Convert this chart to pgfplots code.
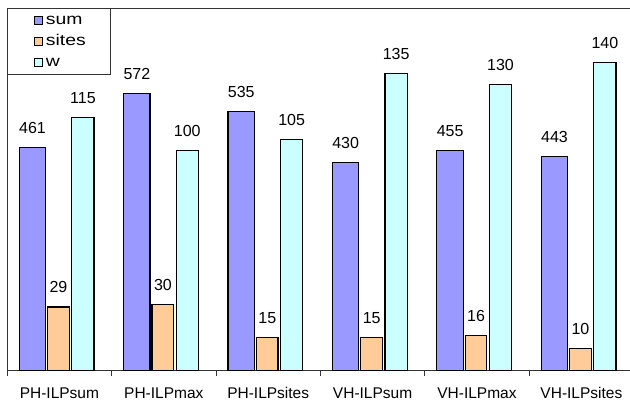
\documentclass[border=0pt]{standalone}
\usepackage{pgfplots}
\pgfplotsset{compat=1.18}
\usepackage{fontspec}
\setmainfont{Liberation Sans}
\newfontfamily\legfont[FakeStretch=1.25]{Liberation Sans}
\definecolor{sumc}{HTML}{9999FF}
\definecolor{sitec}{HTML}{FFCC99}
\definecolor{wc}{HTML}{CCFFFF}
\begin{document}
\begin{tikzpicture}
\pgfplotsset{common/.style={
  at={(0,0)}, anchor=south west, scale only axis,
  width=626.4pt, height=362.7pt,
  xmin=-0.5, xmax=5.5, ymin=0, ybar,
  /pgf/number format/assume math mode=true,
  every node near coord/.append style={font=\fontsize{16}{16}\selectfont, yshift=10pt, black},
}}
\begin{axis}[common, ymax=749,
  axis line style={line width=0.8pt, black!80},
  xtick={0,...,5},
  xticklabels={PH-ILPsum,PH-ILPmax,PH-ILPsites,VH-ILPsum,VH-ILPmax,VH-ILPsites},
  minor xtick={-0.5,0.5,...,5.5},
  ytick=\empty, xtick pos=bottom, tick align=outside,
  major tick length=0pt, minor tick length=5pt,
  minor tick style={line width=0.8pt, black!80},
  xticklabel style={font=\fontsize{15.5}{15.5}\selectfont, text height=11pt, inner sep=0pt, anchor=north, yshift=-17pt},
]
\addplot[fill=sumc, draw=black, line width=1.2pt, bar width=26.4pt, bar shift=-26.9pt, nodes near coords]
  coordinates {(0,461) (1,572) (2,535) (3,430) (4,455) (5,443)};
\end{axis}
\begin{axis}[common, ymax=164.9, hide axis,
  legend image code/.code={\path[draw=none, fill=none] (0pt,0pt) -- (32pt,0pt); \draw[#1, draw=black, line width=0.8pt] (24pt,-4pt) rectangle (32pt,4pt);},
  legend cell align=left,
  legend style={at={(0,1)}, anchor=north west, draw=black!80, line width=0.8pt, fill=white,
    font=\legfont\fontsize{15.5}{15.5}\selectfont, row sep=1pt,
    nodes={inner xsep=3pt, inner ysep=2pt, text height=12pt, text depth=4pt},
    /tikz/every even column/.append style={column sep=9pt},
    /tikz/column 2/.style={nodes={text width=58pt}}},
]
\addlegendimage{fill=sumc}
\addlegendentry{sum}
\addplot[fill=sitec, draw=black, line width=1.2pt, bar width=21.6pt, bar shift=-0.9pt, nodes near coords]
  coordinates {(0,29) (1,30) (2,15) (3,15) (4,16) (5,10)};
\addlegendentry{sites}
\addplot[fill=wc, draw=black, line width=1.2pt, bar width=22.3pt, bar shift=23.5pt, nodes near coords]
  coordinates {(0,115) (1,100) (2,105) (3,135) (4,130) (5,140)};
\addlegendentry{w}
\end{axis}
\pgfresetboundingbox
\path[use as bounding box] (-7.2pt,-33.3pt) rectangle (622.8pt,370.7pt);
\end{tikzpicture}
\end{document}
